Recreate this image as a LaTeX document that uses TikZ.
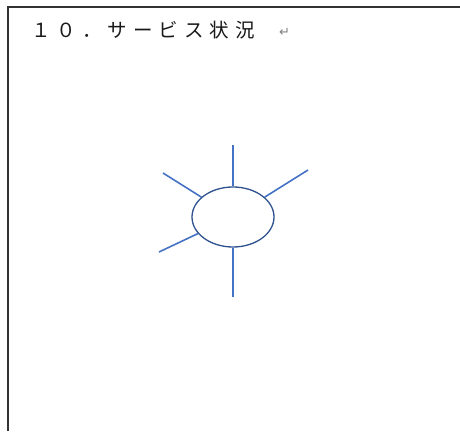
\documentclass[tikz,border=0pt]{standalone}
\usepackage{fontspec}
\newfontfamily\jpfont[LetterSpace=31]{Noto Sans CJK JP}
\newfontfamily\symfont{DejaVu Sans}
\usetikzlibrary{shapes.geometric, positioning, calc}
\definecolor{rayblue}{HTML}{4472C4}
\definecolor{rimblue}{HTML}{2F528F}
\tikzset{
  hubnode/.style={ellipse,draw=rimblue,line width=1.3pt,fill=white,
    minimum width=82pt,minimum height=60pt,inner sep=0pt},
  ray/.style={draw=rayblue,line width=1.6pt},
  frame/.style={draw=black!80,line width=1.6pt}
}

\begin{document}
\begin{tikzpicture}[x=1pt,y=1pt]
  \useasboundingbox (0,0) rectangle (460,431);

  % Page frame
  \draw[frame] (8,0) -- (8,424) -- (462,424);

  % Heading
  \node[anchor=base west,inner sep=0pt,font=\jpfont\fontsize{19.5}{21}\selectfont,text=black!90]
    (title) at (31,393) {１０．サービス状況};
  \node[anchor=base west,inner sep=0pt,font=\symfont\fontsize{13}{14}\selectfont,text=gray]
    (retmark) at (279,394) {↵};

  % Sun symbol
  \node[hubnode] (hub) at (233,214) {};
  \coordinate (raytop) at (233,286);
  \coordinate (raybot) at (233,134);
  \coordinate (rayul) at (163,258);
  \coordinate (rayur) at (308,261);
  \coordinate (rayll) at (159,179);

  \draw[ray] (hub.north) -- (raytop);
  \draw[ray] (hub.south) -- (raybot);
  \draw[ray] (hub) -- (rayul);
  \draw[ray] (hub) -- (rayur);
  \draw[ray] (hub) -- (rayll);

\end{tikzpicture}
\end{document}
